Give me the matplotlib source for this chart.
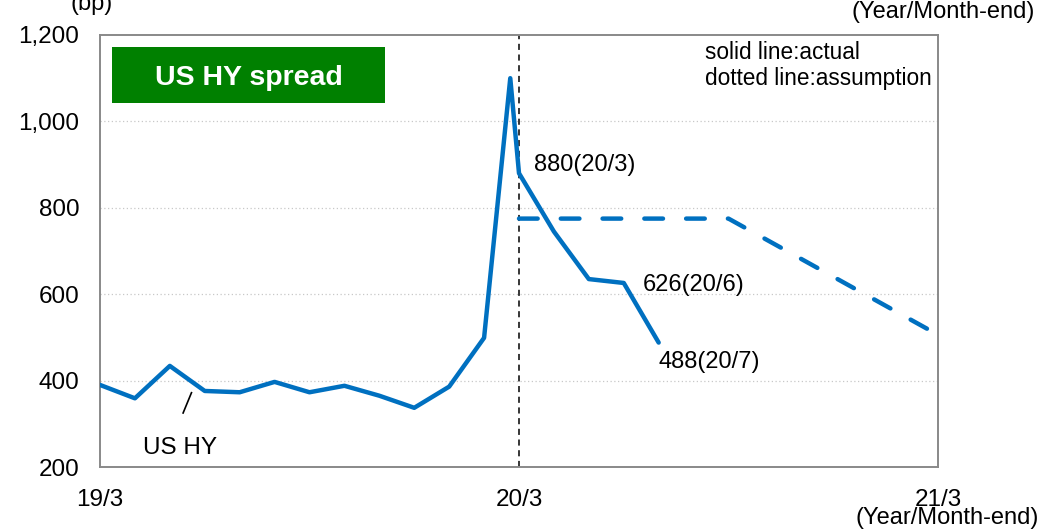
import matplotlib.pyplot as plt
from matplotlib.patches import Rectangle
from matplotlib.ticker import FuncFormatter

plt.rcParams['font.family'] = ['Liberation Sans', 'DejaVu Sans']

# months counted from 19/3 (peak sits inside March 2020)
actual_month = [0, 1, 2, 3, 4, 5, 6, 7, 8, 9, 10, 11, 11.75, 12, 13, 14, 15, 16]
actual_bp = [390, 359, 434, 376, 373, 397, 373, 388, 365, 337, 386, 499,
             1100, 880, 745, 635, 626, 488]

assume_month = [12, 18, 24]
assume_bp = [775, 775, 506]

tick_month = [0, 12, 24]
tick_label = ["19/3", "20/3", "21/3"]
y_ticks = [200, 400, 600, 800, 1000, 1200]

blue = "#0070C0"
spine_col = "#898989"

fig = plt.figure(figsize=(10.55, 5.32), dpi=100)
ax = fig.add_axes([100 / 1055, 65 / 532, 838 / 1055, 432 / 532])

ax.plot(actual_month, actual_bp, color=blue, lw=3.2, solid_joinstyle='round',
        solid_capstyle='round', zorder=3)
ax.plot(assume_month, assume_bp, color=blue, lw=3.2, dashes=(4.2, 5.2),
        dash_capstyle='round', zorder=3)

ax.axvline(12, color='black', lw=1.1, ls=(0, (4, 3)), zorder=2)

ax.set_xlim(0, 24)
ax.set_ylim(200, 1200)
ax.set_xticks(tick_month)
ax.set_xticklabels(tick_label)
ax.set_yticks(y_ticks)
ax.yaxis.set_major_formatter(FuncFormatter(lambda v, p: f"{int(v):,}"))
ax.tick_params(axis='both', length=0, labelsize=17.5)
ax.tick_params(axis='x', pad=16)
ax.tick_params(axis='y', pad=15)

for v in [400, 600, 800, 1000]:
    ax.axhline(v, color='#c8c8c8', lw=0.9, ls=(0, (1, 2)), zorder=1)

for s in ax.spines.values():
    s.set_color(spine_col)
    s.set_linewidth(1.4)

# title box
ax.add_patch(Rectangle((0.0143, 0.8426), 0.326, 0.1296, transform=ax.transAxes,
                       facecolor='#008000', edgecolor='none', zorder=4))
ax.text(0.0143 + 0.163, 0.8426 + 0.058, "US HY spread", transform=ax.transAxes,
        ha='center', va='center', color='white', fontsize=20.5, fontweight='bold',
        zorder=5)

ax.text(0.722, 0.9606, "solid line:actual", transform=ax.transAxes,
        ha='left', va='center', fontsize=16.3)
ax.text(0.722, 0.900, "dotted line:assumption", transform=ax.transAxes,
        ha='left', va='center', fontsize=16.3)

ax.text(12.43, 898, "880(20/3)", ha='left', va='center', fontsize=17)
ax.text(15.55, 622, "626(20/6)", ha='left', va='center', fontsize=17)
ax.text(16.0, 444, "488(20/7)", ha='left', va='center', fontsize=17)

ax.text(1.23, 244, "US HY", ha='left', va='center', fontsize=17.5)
ax.plot([2.38, 2.62], [325, 372], color='black', lw=1.2)

fig.text(92 / 1055, 1 - 4 / 532, "(bp)", ha='center', va='center', fontsize=17)
fig.text(1035 / 1055, 1 - 12 / 532, "(Year/Month-end)", ha='right', va='center',
         fontsize=17)
fig.text(947 / 1055, 1 - 518 / 532, "(Year/Month-end)", ha='center', va='center',
         fontsize=17)

fig.savefig("out.png", dpi=100)
